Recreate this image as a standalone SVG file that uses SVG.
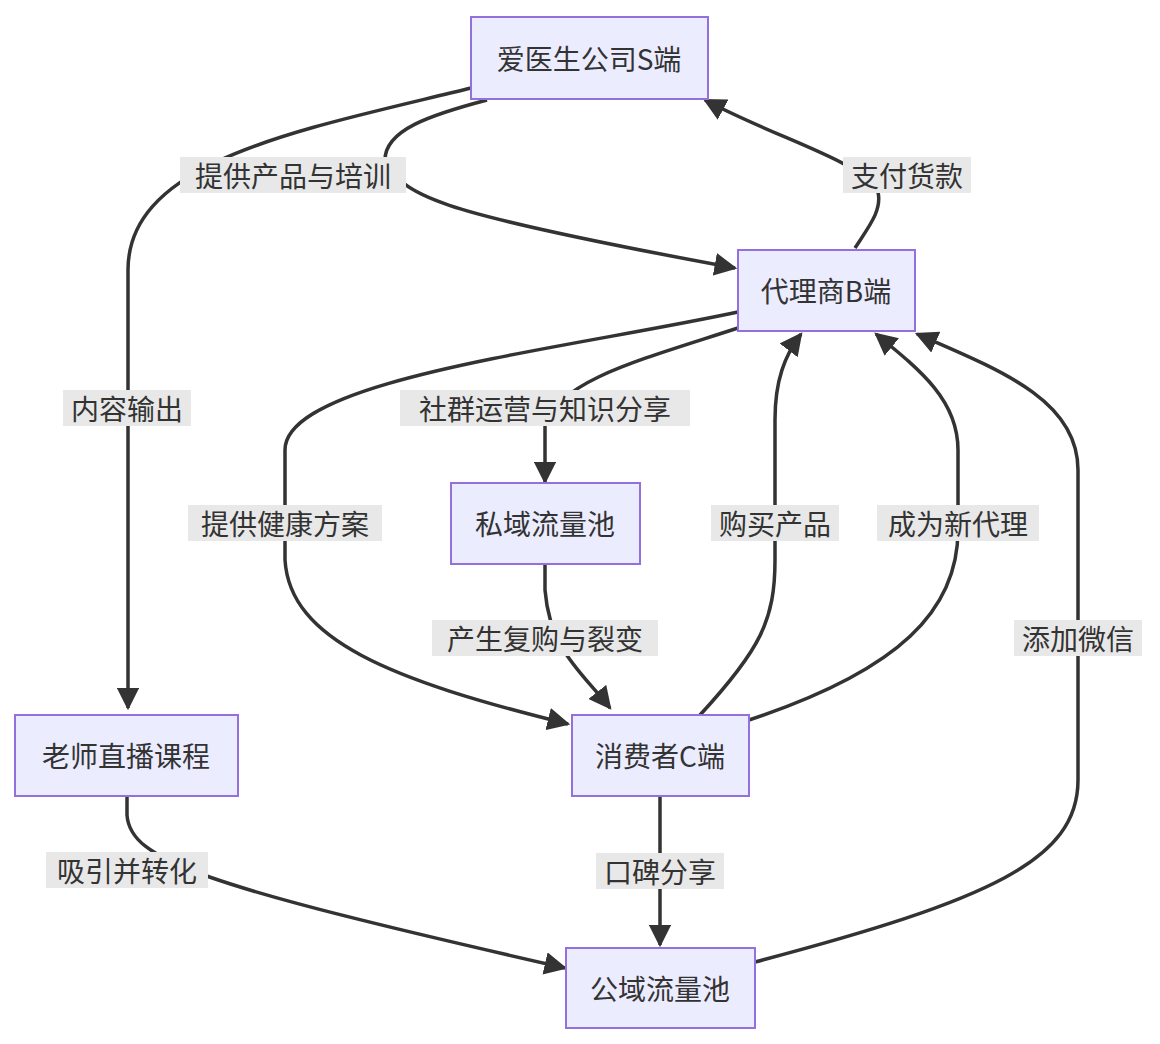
<svg xmlns="http://www.w3.org/2000/svg" width="1160" height="1044" viewBox="0 0 1160 1044">
<style>
.n{fill:#ECECFF;stroke:#9370DB;stroke-width:2}
.t{font-family:"Noto Sans CJK SC","Liberation Sans",sans-serif;font-size:28px;fill:#333;text-anchor:middle;dominant-baseline:central}
.e{fill:none;stroke:#333;stroke-width:3.5}
.lb{fill:#e8e8e8}
</style>
<defs><marker id="a" viewBox="0 0 10 10" refX="9" refY="5" markerWidth="7" markerHeight="7" markerUnits="userSpaceOnUse" orient="auto"><path d="M0,0L10,5L0,10z" fill="#333"/></marker>
<marker id="ah" viewBox="0 0 10 10" refX="9" refY="5" markerWidth="6.5" markerHeight="6.5" orient="auto"><path d="M0,0L10,5L0,10z" fill="#333"/></marker></defs>
<rect width="1160" height="1044" fill="#fff"/>
<g id="edges">
<path class="e" marker-end="url(#ah)" d="M471,88 C300,130 128,160 128,270 L128,708"/>
<path class="e" marker-end="url(#ah)" d="M487,100 C430,115 385,130 385,160 C405,195 420,210 735,268"/>
<path class="e" marker-end="url(#ah)" d="M855,248 C870,225 882,210 878,192 C860,160 780,140 705,100"/>
<path class="e" marker-end="url(#ah)" d="M738,328 C640,360 560,380 545,425 L545,482"/>
<path class="e" marker-end="url(#ah)" d="M738,312 C560,350 285,380 285,450 L285,560 C290,640 390,680 568,724"/>
<path class="e" marker-end="url(#ah)" d="M545,565 L545,590 C550,650 580,670 610,708"/>
<path class="e" marker-end="url(#ah)" d="M700,715 C760,650 775,620 775,560 L775,420 C775,380 785,355 801,334"/>
<path class="e" marker-end="url(#ah)" d="M749,720 C900,670 958,610 958,530 L958,450 C958,400 920,370 876,334"/>
<path class="e" marker-end="url(#ah)" d="M755,962 C990,900 1078,860 1078,780 L1078,470 C1078,400 1000,370 917,334"/>
<path class="e" marker-end="url(#ah)" d="M127,797 L127,815 C130,860 200,885 565,968"/>
<path class="e" marker-end="url(#ah)" d="M660,797 L660,945"/>
</g>
<g id="labels">
<rect class="lb" x="63" y="390" width="128" height="36"/><text class="t" x="127" y="408">内容输出</text>
<rect class="lb" x="180" y="157" width="226" height="36"/><text class="t" x="293" y="175">提供产品与培训</text>
<rect class="lb" x="843" y="157" width="128" height="36"/><text class="t" x="907" y="175">支付货款</text>
<rect class="lb" x="400" y="390" width="290" height="36"/><text class="t" x="545" y="408">社群运营与知识分享</text>
<rect class="lb" x="188" y="505" width="194" height="36"/><text class="t" x="285" y="523">提供健康方案</text>
<rect class="lb" x="432" y="620" width="226" height="36"/><text class="t" x="545" y="638">产生复购与裂变</text>
<rect class="lb" x="711" y="505" width="128" height="36"/><text class="t" x="775" y="523">购买产品</text>
<rect class="lb" x="877" y="505" width="162" height="36"/><text class="t" x="958" y="523">成为新代理</text>
<rect class="lb" x="1014" y="620" width="128" height="36"/><text class="t" x="1078" y="638">添加微信</text>
<rect class="lb" x="46" y="852" width="162" height="36"/><text class="t" x="127" y="870">吸引并转化</text>
<rect class="lb" x="596" y="853" width="128" height="36"/><text class="t" x="660" y="871">口碑分享</text>
</g>
<g id="S"><rect class="n" x="471" y="17" width="237" height="82"/><text class="t" x="589" y="58">爱医生公司S端</text></g>
<g id="B"><rect class="n" x="738" y="250" width="177" height="81"/><text class="t" x="826" y="290">代理商B端</text></g>
<g id="P"><rect class="n" x="451" y="483" width="189" height="81"/><text class="t" x="545" y="523">私域流量池</text></g>
<g id="T"><rect class="n" x="15" y="715" width="223" height="81"/><text class="t" x="126" y="755">老师直播课程</text></g>
<g id="C"><rect class="n" x="572" y="715" width="177" height="81"/><text class="t" x="660" y="755">消费者C端</text></g>
<g id="G"><rect class="n" x="566" y="948" width="189" height="80"/><text class="t" x="660" y="988">公域流量池</text></g>
</svg>
